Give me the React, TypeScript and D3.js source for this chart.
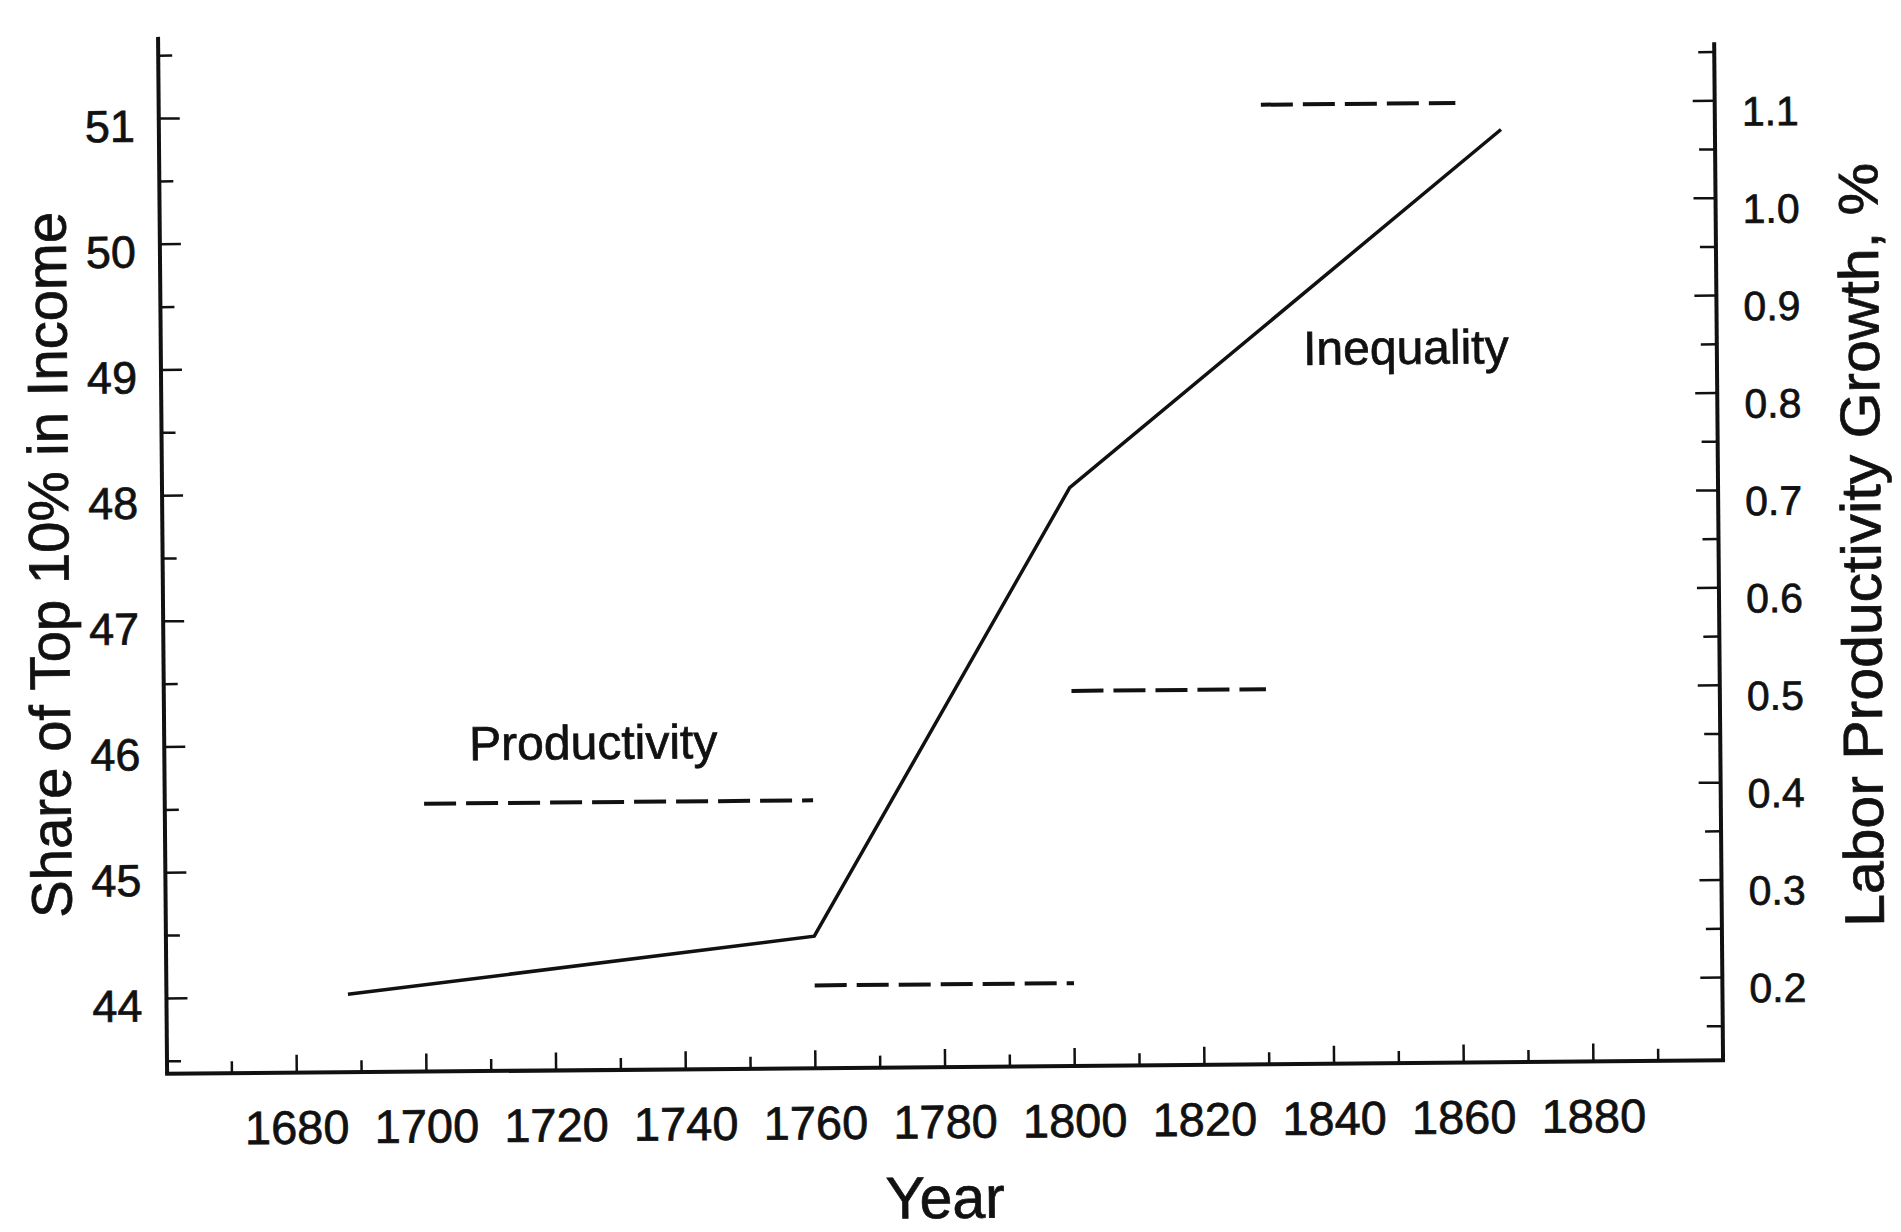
import React from "react";
import * as d3 from "d3";

// inequality: share of top 10% in income (left axis)
const inequalityYears = [1688, 1760, 1800, 1867];
const inequalityShare = [44.02, 44.45, 48.0, 50.82];

// productivity: labor productivity growth, % (right axis), one flat segment per period
const productivityStart = [1700, 1760, 1800, 1830];
const productivityEnd = [1760, 1800, 1830, 1860];
const productivityGrowth = [0.39, 0.2, 0.5, 1.1];

const yearLabels = [1680, 1700, 1720, 1740, 1760, 1780, 1800, 1820, 1840, 1860, 1880];
const leftLabels = [44, 45, 46, 47, 48, 49, 50, 51];
const rightLabels = [0.2, 0.3, 0.4, 0.5, 0.6, 0.7, 0.8, 0.9, 1.0, 1.1];

const App = () => {
  const width = 1901;
  const height = 1232;
  const left = 163;
  const right = 1719;
  const bottom = 1067;
  const font = "'Liberation Sans', Arial, Helvetica, sans-serif";

  const x = d3.scaleLinear().domain([1660, 1900]).range([left, right]);
  const yL = d3.scaleLinear().domain([43.4, 51.65]).range([bottom, 30]);
  const yR = d3.scaleLinear().domain([0.115, 1.16]).range([bottom, 49]);

  const line = d3
    .line<number>()
    .x((d, i) => x(inequalityYears[i]))
    .y((d) => yL(d));

  const yearTicks = d3.range(1670, 1900, 10);
  const leftTicks = d3.range(43.5, 51.6, 0.5);
  const rightTicks = d3.range(0.15, 1.16, 0.05);

  return (
    <svg
      width={width}
      height={height}
      style={{ position: "absolute", left: 0, top: 0, background: "#fff" }}
    >
      <g
        transform="rotate(-0.5 950 600)"
        fontFamily={font}
        fill="#111"
        stroke="#111"
        strokeWidth={0.7}
      >
        {/* frame */}
        <line x1={left} x2={left} y1={30} y2={bottom} strokeWidth={4} />
        <line x1={right} x2={right} y1={49} y2={bottom} strokeWidth={4} />
        <line x1={left - 2} x2={right + 2} y1={bottom} y2={bottom} strokeWidth={4} />

        {/* left ticks */}
        {leftTicks.map((t) => (
          <line
            key={"l" + t}
            x1={left}
            x2={left + (Number.isInteger(t) ? 21 : 14)}
            y1={yL(t)}
            y2={yL(t)}
            strokeWidth={2.5}
          />
        ))}
        {leftLabels.map((t) => (
          <text key={"ll" + t} x={139} y={yL(t) + 23} fontSize={45} textAnchor="end">
            {t}
          </text>
        ))}

        {/* right ticks */}
        {rightTicks.map((t, i) => (
          <line
            key={"r" + i}
            x1={right}
            x2={right - (i % 2 === 1 ? 22 : 16)}
            y1={yR(t)}
            y2={yR(t)}
            strokeWidth={2.5}
          />
        ))}
        {rightLabels.map((t) => (
          <text key={"rl" + t} x={1746} y={yR(t) + 25} fontSize={41}>
            {t.toFixed(1)}
          </text>
        ))}

        {/* bottom ticks */}
        {yearTicks.map((t) => (
          <line
            key={"b" + t}
            x1={x(t)}
            x2={x(t)}
            y1={bottom}
            y2={bottom - (t % 20 === 0 ? 18 : 12)}
            strokeWidth={2.5}
          />
        ))}
        {yearLabels.map((t) => (
          <text key={"bl" + t} x={x(t)} y={1138} fontSize={47} textAnchor="middle">
            {t}
          </text>
        ))}

        {/* inequality line */}
        <path d={line(inequalityShare) || ""} fill="none" strokeWidth={3.5} />

        {/* productivity segments */}
        {productivityGrowth.map((v, i) => (
          <line
            key={"p" + i}
            x1={x(productivityStart[i])}
            x2={x(productivityEnd[i])}
            y1={yR(v)}
            y2={yR(v)}
            strokeWidth={4}
            strokeDasharray="32 10"
          />
        ))}

        {/* annotations */}
        <text x={592} y={756} fontSize={48} textAnchor="middle">
          Productivity
        </text>
        <text x={1408} y={368} fontSize={48} textAnchor="middle">
          Inequality
        </text>

        {/* axis titles */}
        <text x={940} y={1218} fontSize={59} textAnchor="middle">
          Year
        </text>
        <text
          transform="translate(69,557) rotate(-90)"
          fontSize={57}
          textAnchor="middle"
          textLength={706}
          lengthAdjust="spacingAndGlyphs"
        >
          Share of Top 10% in Income
        </text>
        <text
          transform="translate(1881,553) rotate(-90)"
          fontSize={56}
          textAnchor="middle"
          textLength={764}
          lengthAdjust="spacingAndGlyphs"
        >
          Labor Productivity Growth, %
        </text>
      </g>
    </svg>
  );
};

export default App;
